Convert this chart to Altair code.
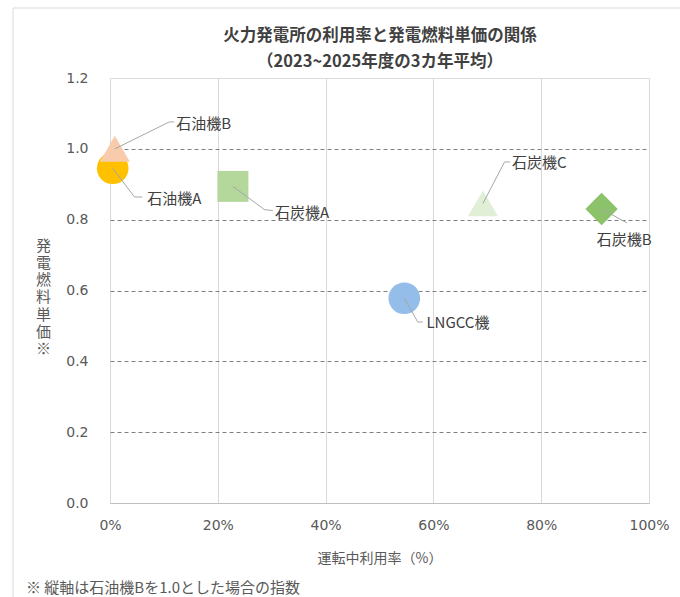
import altair as alt
import pandas as pd

# 発電所ごとの運転中利用率（%）と発電燃料単価（石油機B = 1.0 の指数）
plants = ["石油機A", "石油機B", "石炭機A", "石炭機C", "石炭機B", "LNGCC機"]
utilization = [0.5, 0.9, 22.8, 69.2, 91.2, 54.6]
fuel_cost_index = [0.945, 1.0, 0.894, 0.846, 0.83, 0.578]

x_ticks = [0, 20, 40, 60, 80, 100]
y_ticks = [0.0, 0.2, 0.4, 0.6, 0.8, 1.0, 1.2]

title_lines = ["火力発電所の利用率と発電燃料単価の関係", "（2023~2025年度の3カ年平均）"]
x_title = "運転中利用率（%）"
y_title = "発電燃料単価※"
note = "※ 縦軸は石油機Bを1.0とした場合の指数"

# marker styling per plant
marker_shape = {"石油機A": "circle", "石油機B": "triangle-up", "石炭機A": "square",
                "石炭機C": "triangle-up", "石炭機B": "diamond", "LNGCC機": "circle"}
marker_color = {"石油機A": "#FFC000", "石油機B": "#F8CBAD", "石炭機A": "#B4D89C",
                "石炭機C": "#E0EFD6", "石炭機B": "#8CC269", "LNGCC機": "#94BDE9"}
marker_size = {"circle": 1000, "triangle-up": 900, "square": 961, "diamond": 1050}

# label placement (data units): leader-line elbow, leader-line end, text anchor
label_layout = {
    "石油機A": [(4.55, 0.864), (6.0, 0.864), (6.9, 0.858)],
    "石油機B": [(11.0, 1.076), (11.9, 1.076), (12.3, 1.07)],
    "石炭機A": [(28.7, 0.828), (30.2, 0.826), (30.6, 0.819)],
    "石炭機C": [(73.2, 0.963), (74.2, 0.963), (74.6, 0.960)],
    "石炭機B": [(95.9, 0.791), (95.9, 0.791), (90.3, 0.743)],
    "LNGCC機": [(57.1, 0.511), (58.0, 0.511), (58.7, 0.508)],
}

FONT = "Noto Sans CJK JP"
NUM_FONT = "DejaVu Sans"

points = pd.DataFrame({"name": plants, "x": utilization, "y": fuel_cost_index})
points["size"] = [marker_size[marker_shape[n]] for n in plants]

leader_rows, text_rows = [], []
for name, px, py in zip(plants, utilization, fuel_cost_index):
    elbow, end, anchor = label_layout[name]
    for step, (lx, ly) in enumerate([(px, py), elbow, end]):
        leader_rows.append({"name": name, "step": step, "x": lx, "y": ly})
    text_rows.append({"name": name, "x": anchor[0], "y": anchor[1]})
leaders = pd.DataFrame(leader_rows)
labels = pd.DataFrame(text_rows)

x_axis = alt.Axis(
    values=x_ticks, labelExpr="datum.value + '%'", title=x_title,
    grid=True, gridColor="#D9D9D9", ticks=False, domainColor="#BFBFBF",
    labelFlush=False, labelBaseline="middle",
    labelFont=NUM_FONT, labelFontSize=14, labelColor="#595959", labelPadding=22,
    titleFont=FONT, titleFontSize=14, titleColor="#595959", titleFontWeight="normal",
    titlePadding=19,
)
y_axis = alt.Axis(
    values=y_ticks, format=".1f", title=list(y_title),
    grid=True, gridColor="#808080", gridDash=[4, 3],
    gridOpacity=alt.condition("datum.value <= 0 || datum.value >= 1.2", alt.value(0), alt.value(1)),
    ticks=False, domain=False, labelFlush=False,
    labelFont=NUM_FONT, labelFontSize=14, labelColor="#595959", labelPadding=22,
    titleFont=FONT, titleFontSize=15, titleColor="#595959", titleFontWeight="normal",
    titleAngle=0, titleAlign="center", titleBaseline="top", titleLineHeight=17.3,
    titleX=-67, titleY=160,
)
x_enc = alt.X("x:Q", scale=alt.Scale(domain=[0, 100], nice=False), axis=x_axis)
y_enc = alt.Y("y:Q", scale=alt.Scale(domain=[0, 1.2], nice=False), axis=y_axis)

one_row = pd.DataFrame({"k": [0]})

frame = alt.Chart(one_row).mark_rect(
    fill=None, stroke="#D9D9D9", strokeWidth=1
).encode(x=alt.value(-97), x2=alt.value(620), y=alt.value(-70), y2=alt.value(560))

markers = alt.Chart(points).mark_point(filled=True, opacity=1).encode(
    x=x_enc, y=y_enc,
    shape=alt.Shape("name:N", scale=alt.Scale(domain=plants, range=[marker_shape[n] for n in plants]), legend=None),
    color=alt.Color("name:N", scale=alt.Scale(domain=plants, range=[marker_color[n] for n in plants]), legend=None),
    size=alt.Size("size:Q", scale=None),
)

leader_lines = alt.Chart(leaders).mark_line(color="#A6A6A6", strokeWidth=1).encode(
    x=x_enc, y=y_enc, detail="name:N", order="step:Q",
)

label_text = alt.Chart(labels).mark_text(
    align="left", baseline="middle", font=FONT, fontSize=15, color="#404040"
).encode(x=x_enc, y=y_enc, text="name:N")

# two-line chart title, centred over the plot area
title_text = [
    alt.Chart(one_row).mark_text(
        align="center", baseline="middle", font=FONT, fontSize=16.5,
        fontWeight="bold", color="#404040"
    ).encode(x=alt.value(270), y=alt.value(yy), text=alt.value(line))
    for line, yy in zip(title_lines, [-42, -16])
]

note_text = alt.Chart(one_row).mark_text(
    align="left", baseline="middle", font=FONT, fontSize=15, color="#595959"
).encode(x=alt.value(-84), y=alt.value(510), text=alt.value(note))

chart = alt.layer(frame, markers, leader_lines, label_text, *title_text, note_text).properties(
    width=539, height=425,
    autosize=alt.AutoSizeParams(type="none"),
    padding={"left": 110, "top": 78, "right": 31, "bottom": 94},
).configure_view(stroke="#BFBFBF", strokeWidth=1).configure(background="white")

chart.save("out.html", embed_options={"renderer": "svg", "actions": False})
